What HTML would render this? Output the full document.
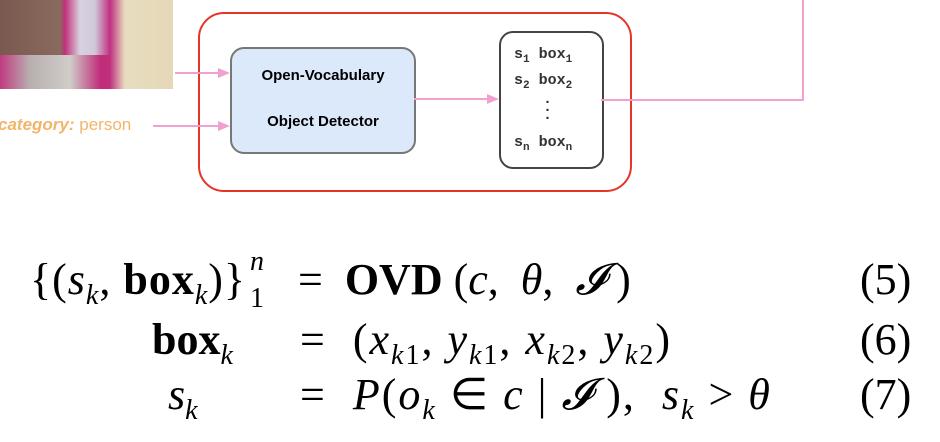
<!DOCTYPE html>
<html><head><style>
body{margin:0;width:940px;height:442px;background:#fff;position:relative;overflow:hidden;font-family:"Liberation Serif",serif}
.a{position:absolute;white-space:nowrap}
.eq{font-size:44px;color:#000;line-height:50px}
i{font-style:italic}
sub,sup{font-size:28px}
.mono{font-family:"Liberation Mono",monospace;font-weight:bold;font-size:15px;color:#333}
.s{position:absolute;font-size:28px;line-height:28px;font-style:italic}
</style></head><body>
<div class="a" style="left:0;top:0;width:173px;height:89px;background:linear-gradient(90deg,#7a5a50 0,#8a6a5e 60px,#c0307a 65px,#d9d2e0 80px,#cfc8d8 95px,#c03080 110px,#e8dcc0 125px,#e5d8b8 173px)"></div>
<div class="a" style="left:0;top:55px;width:110px;height:34px;background:linear-gradient(90deg,#c03a80 0,#b8b0b0 30px,#d0ccc8 70px,#c02e7a 100px)"></div>
<div class="a" style="left:198px;top:12px;width:430px;height:176px;border:2.5px solid #e53527;border-radius:26px"></div>
<div class="a" style="left:230px;top:47px;width:182px;height:103px;border:2px solid #777;border-radius:14px;background:#dbe9fb"></div>
<div class="a" style="left:230px;top:67px;width:186px;text-align:center;font:bold 15px 'Liberation Sans',sans-serif">Open-Vocabulary</div>
<div class="a" style="left:230px;top:113px;width:186px;text-align:center;font:bold 15px 'Liberation Sans',sans-serif">Object Detector</div>
<div class="a" style="left:499px;top:31px;width:101px;height:134px;border:2px solid #444;border-radius:14px"></div>
<div class="a mono" style="left:514px;top:46px">s<sub style="font-size:11px">1</sub> box<sub style="font-size:11px">1</sub></div>
<div class="a mono" style="left:514px;top:72px">s<sub style="font-size:11px">2</sub> box<sub style="font-size:11px">2</sub></div>
<div class="a mono" style="left:543px;top:96px;line-height:8px">.<br>.<br>.</div>
<div class="a mono" style="left:514px;top:134px">s<sub style="font-size:11px">n</sub> box<sub style="font-size:11px">n</sub></div>
<div class="a" style="left:-2px;top:115px;font:17px 'Liberation Sans',sans-serif;color:#f3b46a"><b><i>category:</i></b> person</div>
<svg class="a" style="left:0;top:0" width="940" height="200">
<g stroke="#f1a0cf" stroke-width="2" fill="none">
<line x1="175" y1="73" x2="220" y2="73"/><line x1="153" y1="126" x2="220" y2="126"/>
<line x1="414" y1="99" x2="488" y2="99"/>
<polyline points="601,100 803,100 803,0"/></g>
<g fill="#f1a0cf"><polygon points="230,73 218,68 218,78"/><polygon points="230,126 218,121 218,131"/><polygon points="499,99 487,94 487,104"/></g>
</svg>
<div class="a eq" style="left:30px;top:255px;letter-spacing:1px">{(<i>s<sub>k</sub></i>, <b>box</b><sub><i>k</i></sub>)}</div>
<div class="s" style="left:250px;top:248px">n</div>
<div class="s" style="left:250px;top:285px;font-style:normal">1</div>
<div class="a eq" style="left:298px;top:255px">= &nbsp;<b>OVD</b> (<i>c</i>, &nbsp;<i>θ</i>, &nbsp;<i>𝓘</i> )</div>
<div class="a eq" style="left:152px;top:315px"><b>box</b><sub><i>k</i></sub></div>
<div class="a eq" style="left:300px;top:315px;letter-spacing:2px">= &nbsp;(<i>x</i><sub><i>k</i>1</sub>, <i>y</i><sub><i>k</i>1</sub>, <i>x</i><sub><i>k</i>2</sub>, <i>y</i><sub><i>k</i>2</sub>)</div>
<div class="a eq" style="left:168px;top:370px"><i>s<sub>k</sub></i></div>
<div class="a eq" style="left:300px;top:370px;letter-spacing:2px">= &nbsp;<i>P</i>(<i>o<sub>k</sub></i> ∈ <i>c</i> | <i>𝓘</i> ), &nbsp;<i>s<sub>k</sub></i> &gt; <i>θ</i></div>
<div class="a eq" style="left:860px;top:255px">(5)</div>
<div class="a eq" style="left:860px;top:315px">(6)</div>
<div class="a eq" style="left:860px;top:370px">(7)</div>
</body></html>
